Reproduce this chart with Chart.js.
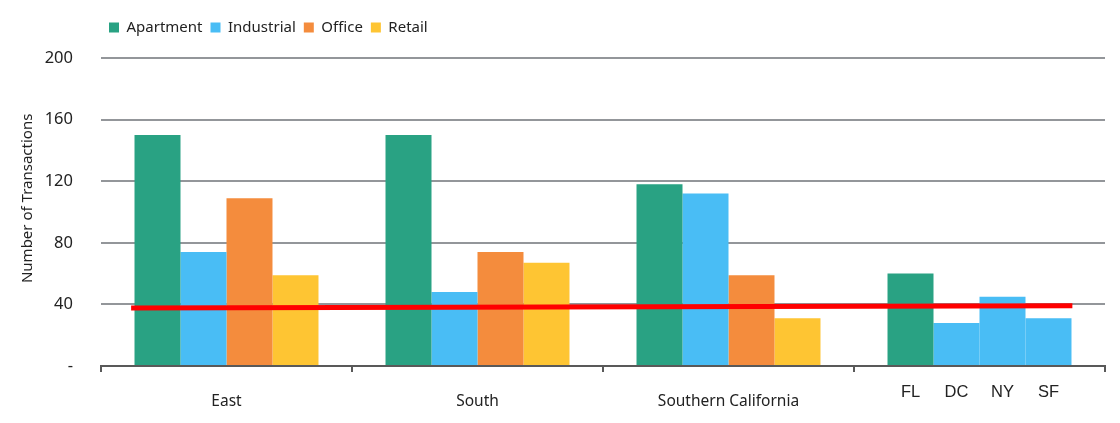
<!DOCTYPE html>
<html>
<head>
<meta charset="utf-8">
<script src="https://cdn.jsdelivr.net/npm/chart.js@4"></script>
<style>
  html, body { margin: 0; padding: 0; background: #fff; }
  .wrap { width: 1120px; height: 423px; position: relative; }
</style>
</head>
<body>
<div class="wrap"><canvas id="chart"></canvas></div>
<script>
// data
const categories = ['East', 'South', 'Southern California', ''];
const seriesNames = ['Apartment', 'Industrial', 'Office', 'Retail'];
const apartment = [150, 150, 118, 60];
const industrial = [74, 48, 112, 28];
const office = [109, 74, 59, 45];
const retail = [59, 67, 31, 31];
// last group is split by market, not by property type
const marketLabels = ['FL', 'DC', 'NY', 'SF'];
// red average line: start / end, in category index units and y values
const avgLineX = [-0.38, 3.37];
const avgLineY = [37.6, 39.2];
const yTicks = [0, 40, 80, 120, 160, 200];

const GREEN = '#29a283', BLUE = '#49bdf5', ORANGE = '#f48c3d', YELLOW = '#fec533';
const baseFont = '"Noto Sans", "Open Sans", sans-serif';

// red line drawn over the bars, positioned with the chart's own scales
const avgLinePlugin = {
  id: 'avgLine',
  afterDatasetsDraw(chart) {
    const { ctx, scales: { x, y } } = chart;
    ctx.save();
    ctx.strokeStyle = '#ff0000';
    ctx.lineWidth = 5;
    ctx.beginPath();
    avgLineX.forEach((v, i) => {
      const px = x.getPixelForValue(v), py = y.getPixelForValue(avgLineY[i]);
      i ? ctx.lineTo(px, py) : ctx.moveTo(px, py);
    });
    ctx.stroke();
    ctx.restore();
  }
};

const marketLabelPlugin = {
  id: 'marketLabels',
  afterDraw(chart) {
    const ctx = chart.ctx;
    ctx.save();
    ctx.font = '16.5px "Liberation Sans", Arial, sans-serif';
    ctx.fillStyle = '#222';
    ctx.textAlign = 'center';
    ctx.textBaseline = 'middle';
    marketLabels.forEach((lbl, i) => {
      const bar = chart.getDatasetMeta(i).data[3];
      ctx.fillText(lbl, bar.x, 392);
    });
    ctx.restore();
  }
};

// extra room between legend and plot
const legendGapPlugin = {
  id: 'legendGap',
  beforeInit(chart) {
    const fit = chart.legend.fit;
    chart.legend.fit = function () {
      fit.call(this);
      this.height += 13;
    };
  }
};

const barDs = (label, data, colors) => ({
  label,
  data,
  backgroundColor: colors,
  borderWidth: 0,
  categoryPercentage: 0.733,
  barPercentage: 1
});

new Chart(document.getElementById('chart'), {
  type: 'bar',
  data: {
    labels: categories,
    datasets: [
      barDs(seriesNames[0], apartment, GREEN),
      barDs(seriesNames[1], industrial, BLUE),
      barDs(seriesNames[2], office, [ORANGE, ORANGE, ORANGE, BLUE]),
      barDs(seriesNames[3], retail, [YELLOW, YELLOW, YELLOW, BLUE])
    ]
  },
  options: {
    responsive: true,
    maintainAspectRatio: false,
    animation: false,
    layout: { padding: { top: 12, right: 15, bottom: 0, left: 0 } },
    plugins: {
      tooltip: { enabled: false },
      legend: {
        position: 'top',
        align: 'start',
        fullSize: false,
        labels: {
          boxWidth: 10,
          boxHeight: 10,
          padding: 8,
          color: '#222',
          font: { family: baseFont, size: 15 },
          generateLabels() {
            const cols = [GREEN, BLUE, ORANGE, YELLOW];
            return seriesNames.map((n, i) => ({
              text: n, fillStyle: cols[i], strokeStyle: cols[i], lineWidth: 0,
              datasetIndex: i, fontColor: '#222'
            }));
          }
        }
      }
    },
    scales: {
      x: {
        offset: true,
        grid: { display: true, drawOnChartArea: false, drawTicks: true, tickLength: 6, color: '#595959', lineWidth: 2, offset: true },
        border: { display: true, color: '#595959', width: 2 },
        ticks: { color: '#222', font: { family: baseFont, size: 15.5 }, padding: 20, maxRotation: 0, autoSkip: false },
        afterFit(scale) { scale.height = 57; }
      },
      y: {
        min: 0,
        max: 200,
        afterBuildTicks(scale) { scale.ticks = yTicks.map(v => ({ value: v })); },
        grid: {
          color: ctx => ctx.tick && ctx.tick.value === 0 ? 'rgba(0,0,0,0)' : '#93969a',
          lineWidth: 2,
          drawTicks: false
        },
        border: { display: false },
        ticks: {
          color: '#222',
          font: { family: baseFont, size: 16.5 },
          padding: 28,
          callback: v => v === 0 ? '-' : v
        },
        title: {
          display: true,
          text: '       Number of Transactions',
          color: '#222',
          font: { family: baseFont, size: 15 },
          padding: { top: 19, bottom: 0 }
        },
        afterFit(scale) { scale.width = 101; }
      }
    }
  },
  plugins: [legendGapPlugin, avgLinePlugin, marketLabelPlugin]
});
</script>
</body>
</html>
